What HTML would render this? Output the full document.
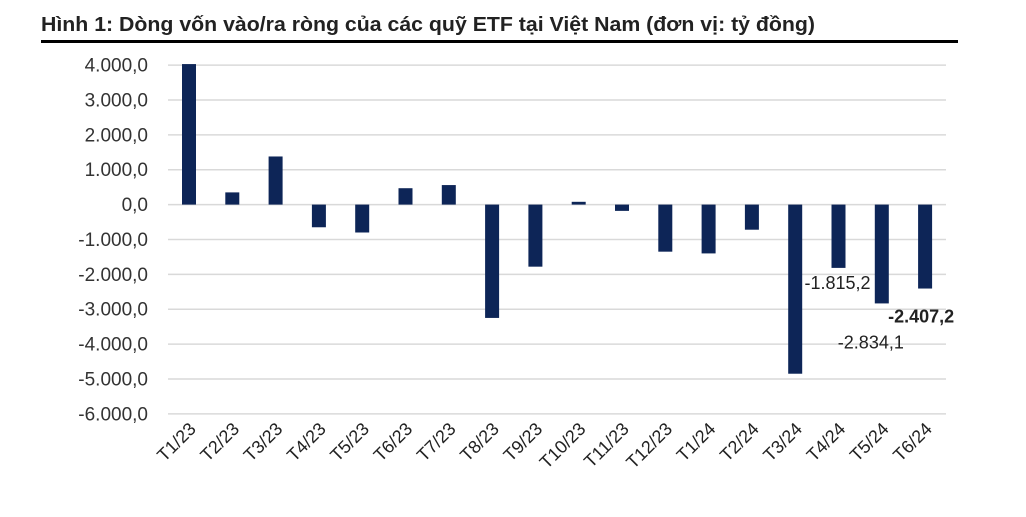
<!DOCTYPE html>
<html><head><meta charset="utf-8"><style>
body{margin:0;background:#fff;width:1026px;height:512px;overflow:hidden;font-family:"Liberation Sans",sans-serif}
</style></head><body>
<svg width="1026" height="512" xmlns="http://www.w3.org/2000/svg">
<text x="41" y="31" font-size="20" font-weight="bold" fill="#222" textLength="774" lengthAdjust="spacingAndGlyphs" font-family="Liberation Sans, sans-serif">Hình 1: Dòng vốn vào/ra ròng của các quỹ ETF tại Việt Nam (đơn vị: tỷ đồng)</text>
<rect x="41" y="40" width="917" height="3" fill="#000"/>
<g id="grid"></g><g id="bars"></g><g id="labels"></g>
</svg>
<script>
const categories=["T1/23","T2/23","T3/23","T4/23","T5/23","T6/23","T7/23","T8/23","T9/23","T10/23","T11/23","T12/23","T1/24","T2/24","T3/24","T4/24","T5/24","T6/24"];
const values=[4030,350,1380,-650,-800,470,560,-3250,-1780,80,-180,-1350,-1400,-720,-4850,-1815.2,-2834.1,-2407.2];
const yTicks=[4000,3000,2000,1000,0,-1000,-2000,-3000,-4000,-5000,-6000];
const yTickLabels=["4.000,0","3.000,0","2.000,0","1.000,0","0,0","-1.000,0","-2.000,0","-3.000,0","-4.000,0","-5.000,0","-6.000,0"];
const annotations=[{i:15,text:"-1.815,2",bold:false,dx:-34,dy:21},{i:16,text:"-2.834,1",bold:false,dx:-44,dy:45},{i:17,text:"-2.407,2",bold:true,dx:-37,dy:34}];
const NS="http://www.w3.org/2000/svg";
const y=v=>204.6-v*0.03487;
const x=i=>189+i*43.3;
function mk(t,a,p,txt){const e=document.createElementNS(NS,t);for(const k in a)e.setAttribute(k,a[k]);if(txt!==undefined)e.textContent=txt;p.appendChild(e);return e;}
const grid=document.getElementById('grid'),bars=document.getElementById('bars'),labels=document.getElementById('labels');
yTicks.forEach((v,k)=>{
 const l=mk('line',{x1:168,x2:946,y1:y(v),y2:y(v),stroke:'#d9d9d9','stroke-width':1.5},grid);
 
 
 const t=mk('text',{x:148,y:y(v)+6.5,'text-anchor':'end','font-size':19,fill:'#333','font-family':'Liberation Sans, sans-serif'},grid,yTickLabels[k]);
 
 
});
values.forEach((v,i)=>{
 const top=Math.min(y(v),y(0)),h=Math.abs(y(v)-y(0));
 const r=mk('rect',{x:x(i)-7,y:top,width:14,height:h,fill:'#0d2557'},bars);
 
 
 const t=mk('text',{x:x(i)+8,y:430,'text-anchor':'end','font-size':18,fill:'#222','font-family':'Liberation Sans, sans-serif',transform:`rotate(-45 ${x(i)+8} 430)`},labels,categories[i]);
 
 
});
annotations.forEach(a=>{
 const v=values[a.i];
 const t=mk('text',{x:x(a.i)+a.dx,y:y(v)+a.dy,'text-anchor':'start','font-size':18,'font-weight':a.bold?'bold':'normal',fill:'#222','font-family':'Liberation Sans, sans-serif'},labels,a.text);
 
 
});
</script>
</body></html>
